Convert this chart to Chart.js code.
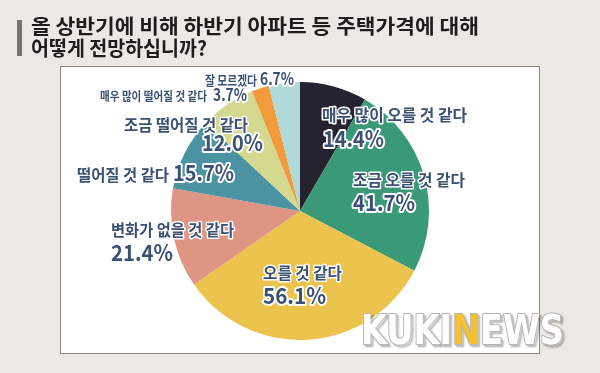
<!DOCTYPE html>
<html>
<head>
<meta charset="utf-8">
<script src="https://cdn.jsdelivr.net/npm/chart.js@4"></script>
<style>
  html, body { margin: 0; padding: 0; background: #ece8e4; }
  #wrap { width: 600px; height: 373px; position: relative; }
</style>
</head>
<body>
<div id="wrap"><canvas id="chartPie" width="600" height="373"></canvas></div>
<script>
// 주택가격 전망 (상반기 대비 하반기)
const categories = ['매우 많이 오를 것 같다', '조금 오를 것 같다', '오를 것 같다', '변화가 없을 것 같다',
                    '떨어질 것 같다', '조금 떨어질 것 같다', '매우 많이 떨어질 것 같다', '잘 모르겠다'];
const values = [14.4, 41.7, 56.1, 21.4, 15.7, 12.0, 3.7, 6.7];
const valueLabels = ['14.4%', '41.7%', '56.1%', '21.4%', '15.7%', '12.0%', '3.7%', '6.7%'];
const titleLines = ['올 상반기에 비해 하반기 아파트 등 주택가격에 대해', '어떻게 전망하십니까?'];

const colors = ['#25232f', '#3a9a78', '#ecc34c', '#df9584', '#4b93a2', '#d4d98f', '#f19b3c', '#afd8d8'];

// label layout: [name x, baseline, size, width, value x, baseline, size, width]
const labelPos = [
    [322, 121, 16, 145, 323, 147, 22, 61],
    [353, 186, 16, 112, 353, 211, 22, 62],
    [263, 279, 16, 79, 263, 304, 22, 63],
    [111, 236, 16, 123, 111, 261, 22, 62],
    [77, 181, 16, 92, 173, 181, 22, 61],
    [124, 131, 16, 124, 202, 151, 22, 61],
    [100, 101, 12.5, 107, 213, 101, 17, 34],
    [205, 85, 13, 52, 260, 85, 17, 34]
];

const FONT = '"Noto Sans CJK KR", "Noto Sans", sans-serif';

function fitText(ctx, text, x, y, width, fill) {
    const w = ctx.measureText(text).width;
    ctx.save();
    ctx.translate(x, y);
    ctx.scale(width / w, 1);
    fill(text);
    ctx.restore();
}

function outlined(ctx, text, x, y, size, width, lw) {
    ctx.font = 'bold ' + size + 'px ' + FONT;
    ctx.lineJoin = 'round';
    ctx.lineWidth = lw;
    ctx.strokeStyle = '#ffffff';
    ctx.fillStyle = '#3a5173';
    fitText(ctx, text, x, y, width, t => {
        ctx.strokeText(t, 0, 0);
        ctx.fillText(t, 0, 0);
    });
}

const frame = {
    id: 'frame',
    beforeDraw(chart) {
        const ctx = chart.ctx;
        ctx.save();
        ctx.fillStyle = '#ece8e4';
        ctx.fillRect(0, 0, chart.width, chart.height);
        ctx.fillStyle = '#ffffff';
        ctx.fillRect(60.5, 66.5, 479, 287);
        ctx.strokeStyle = '#8d8884';
        ctx.lineWidth = 1;
        ctx.strokeRect(60.5, 66.5, 479, 287);

        // title
        ctx.fillStyle = '#7a736d';
        ctx.fillRect(17, 20, 5, 36);
        ctx.fillStyle = '#1f1d1c';
        ctx.font = 'bold 20px ' + FONT;
        ctx.textBaseline = 'alphabetic';
        fitText(ctx, titleLines[0], 31, 34, 448, t => ctx.fillText(t, 0, 0));
        fitText(ctx, titleLines[1], 31, 56, 176, t => ctx.fillText(t, 0, 0));
        ctx.restore();
    },
    afterDraw(chart) {
        const ctx = chart.ctx;
        ctx.save();
        ctx.textBaseline = 'alphabetic';
        ctx.textAlign = 'left';
        labelPos.forEach((p, i) => {
            outlined(ctx, categories[i], p[0], p[1], p[2], p[3], 3);
            outlined(ctx, valueLabels[i], p[4], p[5], p[6], p[7], 4);
        });

        // watermark
        ctx.font = 'bold 40px "DejaVu Sans Condensed", "Liberation Sans Narrow", sans-serif';
        const parts = [['KUKI', '#ffffff'], ['N', '#f2c232'], ['EWS', '#ffffff']];
        const full = parts.map(p => p[0]).join('');
        const sx = 203 / ctx.measureText(full).width;
        ctx.translate(361, 344);
        ctx.scale(sx, 1);
        let x = 0;
        parts.forEach(p => {
            ctx.shadowColor = 'rgba(0,0,0,0.35)';
            ctx.shadowOffsetX = 2;
            ctx.shadowOffsetY = 2;
            ctx.shadowBlur = 2;
            ctx.lineWidth = 2;
            ctx.strokeStyle = '#b9b6b2';
            ctx.strokeText(p[0], x, 0);
            ctx.shadowColor = 'transparent';
            ctx.fillStyle = p[1];
            ctx.fillText(p[0], x, 0);
            x += ctx.measureText(p[0]).width;
        });
        ctx.restore();
    }
};

new Chart(document.getElementById('chartPie'), {
    type: 'pie',
    data: {
        labels: categories,
        datasets: [{
            data: values,
            backgroundColor: colors,
            borderWidth: 0
        }]
    },
    options: {
        responsive: false,
        animation: false,
        layout: { padding: { left: 171, right: 171, top: 82, bottom: 33 } },
        plugins: {
            legend: { display: false },
            tooltip: { enabled: false }
        }
    },
    plugins: [frame]
});
</script>
</body>
</html>
